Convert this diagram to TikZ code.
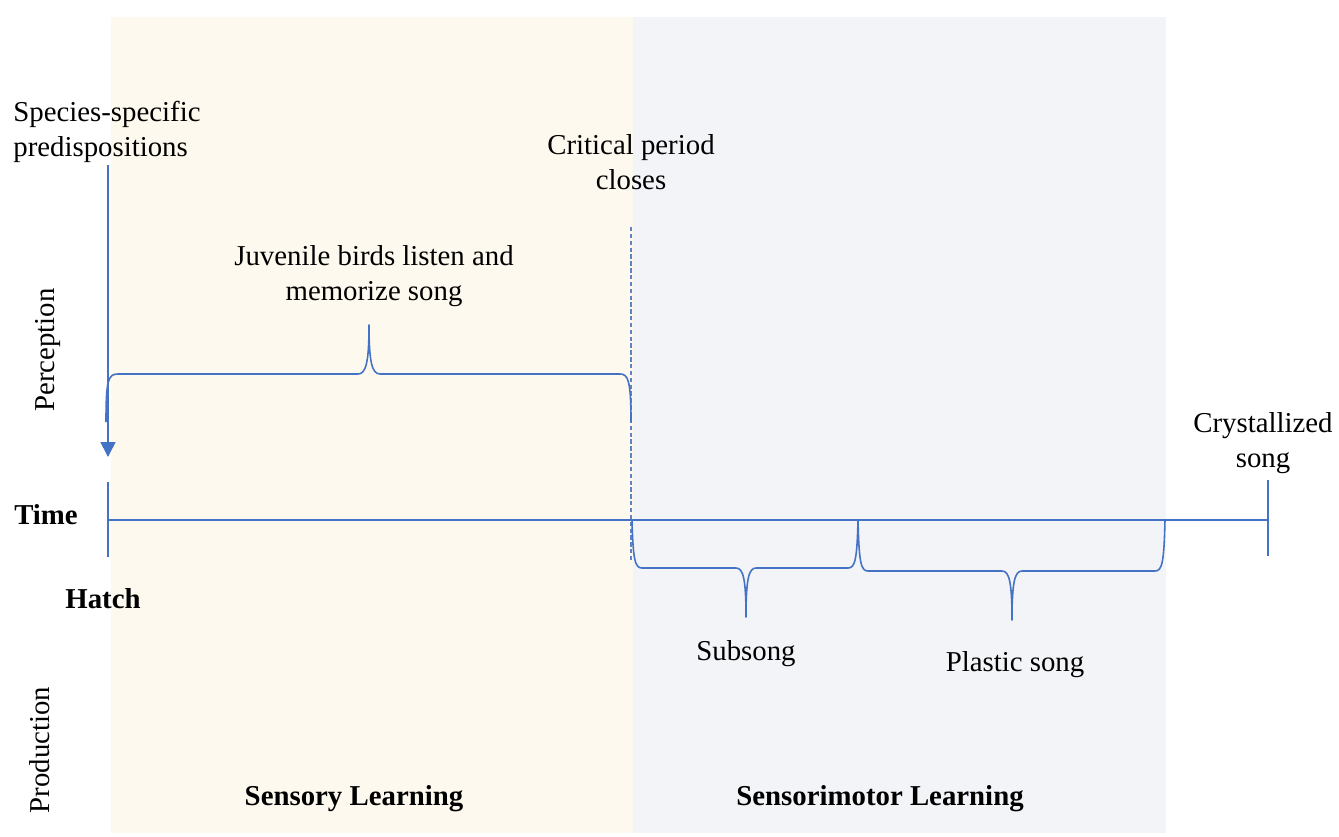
\documentclass[tikz,border=0pt]{standalone}
\usepackage{fontspec}
\setmainfont{Liberation Serif}
\usetikzlibrary{arrows.meta}
\usetikzlibrary{positioning}
\definecolor{lineblue}{HTML}{4472C4}
\definecolor{dashblue}{HTML}{5F82C8}
\definecolor{sensoryband}{HTML}{FEF9EE}
\definecolor{motorband}{HTML}{F3F4F7}

\begin{document}
\begin{tikzpicture}[x=0.02cm, y=-0.02cm,
    txt/.style={inner sep=0pt, align=center, font=\fontsize{16.4}{19.6}\selectfont},
    btxt/.style={txt, font=\fontsize{16.4}{19.6}\selectfont\bfseries},
    blue line/.style={lineblue, line width=0.9pt},
    bracket/.style={lineblue, line width=0.9pt, line join=round}]
    \useasboundingbox (0,0) rectangle (1339,836);

    % the two learning phases
    \fill[sensoryband] (111,17) rectangle (633,833);
    \fill[motorband] (633,17) rectangle (1166,833);

    \node[btxt] (sensory) at (354,799) {Sensory Learning};
    \node[btxt] (motor) at (880,799) {Sensorimotor Learning};

    \node[txt, rotate=90] (perception) at (48,350) {Perception};
    \node[txt, rotate=90] (production) at (40,750) {Production};

    % time axis
    \coordinate (hatchtop) at (108,482);
    \coordinate (hatchbot) at (108,557);
    \coordinate (axisstart) at (108,520);
    \coordinate (axisend) at (1268,520);
    \coordinate (crysttop) at (1268,480);
    \coordinate (crystbot) at (1268,556);
    \draw[blue line] (axisstart) -- (axisend);
    \draw[blue line] (hatchtop) -- (hatchbot);
    \draw[blue line] (crysttop) -- (crystbot);

    \node[btxt] (time) at (46,515) {Time};
    \node[btxt] (hatch) at (103,599) {Hatch};
    \node[txt] (crystallized) at (1263,443) {Crystallized\\song};

    % predispositions arrow
    \node[txt, align=left, anchor=west] (species) at (13,132) {Species-specific\\predispositions};
    \coordinate (arrowtop) at (108,165);
    \coordinate (arrowtip) at (108,457);
    \draw[blue line, -{Triangle[width=8.5pt, length=8.5pt]}] (arrowtop) -- (arrowtip);

    % critical period
    \node[txt] (critical) at (631,162) {Critical period\\closes};
    \coordinate (dashtop) at (631,227);
    \coordinate (dashbot) at (631,560);
    \draw[dashblue, line width=1pt, dash pattern=on 2.5pt off 1.4pt] (dashtop) -- (dashbot);

    % sensory brace
    \node[txt] (juvenile) at (374,276) {Juvenile birds listen and\\memorize song};
    \coordinate (sl) at (106,422);
    \coordinate (stip) at (369,325);
    \coordinate (sr) at (631,422);
    \draw[bracket] (sl) .. controls (106,380) and (108,374) .. (118,374) -- (358,374)
        .. controls (366,374) and (369,362) .. (stip)
        .. controls (369,362) and (372,374) .. (380,374) -- (620,374)
        .. controls (628,374) and (631,380) .. (sr);

    % subsong brace
    \node[txt] (subsong) at (746,654) {Subsong};
    \coordinate (al) at (632,520);
    \coordinate (atip) at (746,617);
    \coordinate (ar) at (858,520);
    \draw[bracket] (al) .. controls (633,560) and (635,568) .. (642,568) -- (736,568)
        .. controls (743,568) and (746,578) .. (atip)
        .. controls (746,578) and (749,568) .. (756,568) -- (848,568)
        .. controls (855,568) and (857,560) .. (ar);

    % plastic song brace
    \node[txt] (plastic) at (1015,665) {Plastic song};
    \coordinate (bl) at (858,520);
    \coordinate (btip) at (1012,620);
    \coordinate (br) at (1165,520);
    \draw[bracket] (bl) .. controls (859,563) and (861,571) .. (868,571) -- (1002,571)
        .. controls (1009,571) and (1012,581) .. (btip)
        .. controls (1012,581) and (1015,571) .. (1022,571) -- (1155,571)
        .. controls (1162,571) and (1164,563) .. (br);
  \end{tikzpicture}
\end{document}
